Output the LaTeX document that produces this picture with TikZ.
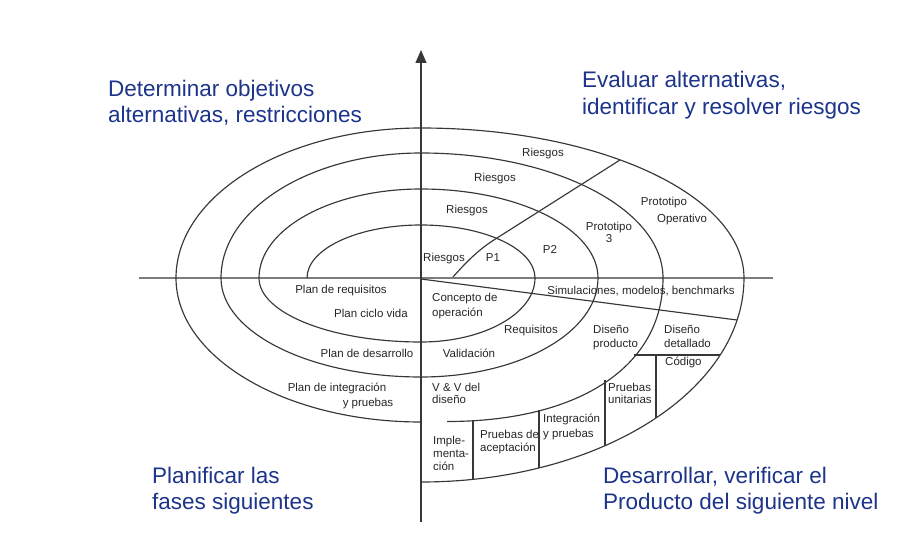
\documentclass[tikz,border=0pt]{standalone}
\usepackage{fontspec}
\setmainfont{Liberation Sans}
\usetikzlibrary{arrows.meta}
\definecolor{quadblue}{RGB}{28,52,138}
\definecolor{linegray}{RGB}{55,55,55}
\definecolor{axisgray}{RGB}{125,125,125}
\tikzset{
  spiral/.style={draw=linegray, line width=1.15pt},
  lbl/.style={font=\fontsize{11.5}{13}\selectfont, inner sep=0pt, text=black!85, anchor=base},
  lblw/.style={lbl, anchor=base west},
  quad/.style={font=\fontsize{22.5}{27}\selectfont, text=quadblue, inner sep=0pt, anchor=base west},
}
\begin{document}
\begin{tikzpicture}[x=1pt,y=-1pt]
\useasboundingbox (0,0) rectangle (914,543);
% axes
\draw[axisgray, line width=1.2pt] (139,278) -- (773,278);
\draw[linegray, line width=1.2pt, -{Triangle[length=13pt,width=11pt]}] (421,522) -- (421,50);
% spiral
\draw[spiral] (307,278) .. controls (307,248.7) and (358,225) .. (421,225)
  .. controls (484,225) and (535,248.7) .. (535,278)
  .. controls (535,313.3) and (484,342) .. (421,342)
  .. controls (331.5,342) and (259,313.3) .. (259,278)
  .. controls (259,228.8) and (331.5,189) .. (421,189)
  .. controls (518.8,189) and (598,228.8) .. (598,278)
  .. controls (598,332.7) and (518.8,377) .. (421,377)
  .. controls (310.5,377) and (221,332.7) .. (221,278)
  .. controls (221,209) and (310.5,153) .. (421,153)
  .. controls (554.7,153) and (663,209) .. (663,278)
  .. controls (663,366) and (580,421.5) .. (447,421.5);
\draw[spiral] (421,422) .. controls (285.7,422) and (176,357.5) .. (176,278)
  .. controls (176,195.2) and (285.7,128) .. (421,128)
  .. controls (599.4,128) and (744,195.2) .. (744,278)
  .. controls (744,390.7) and (599.4,482) .. (421,482);
% radial lines
\draw[spiral] (453,277) .. controls (468,260) and (480,248.5) .. (497,238) -- (620,160);
\draw[spiral] (421,279) -- (737,320);
\draw[spiral] (634,355) -- (720,355);
\draw[spiral] (656,355) -- (656,418);
\draw[spiral] (605,380) -- (605,446);
\draw[spiral] (539,410) -- (539,468);
\draw[spiral] (473,421) -- (473,479.5);
% quadrant titles
\node[quad] (q1a) at (108,96) {Determinar objetivos};
\node[quad] (q1b) at (108,123) {alternativas, restricciones};
\node[quad] (q2a) at (582,88) {Evaluar alternativas,};
\node[quad] (q2b) at (582,114) {identificar y resolver riesgos};
\node[quad] (q3a) at (152,483) {Planificar las};
\node[quad] (q3b) at (152,509) {fases siguientes};
\node[quad] (q4a) at (603,483) {Desarrollar, verificar el};
\node[quad] (q4b) at (603,509) {Producto del siguiente nivel};
% labels upper right
\node[lbl] (r4) at (543,157) {Riesgos};
\node[lbl] (r3) at (495,181) {Riesgos};
\node[lbl] (r2) at (467,213) {Riesgos};
\node[lbl] (r1) at (444,261) {Riesgos};
\node[lbl] (p1) at (493,261) {P1};
\node[lbl] (p2) at (550,253) {P2};
\node[lbl] (p3a) at (609,230) {Prototipo};
\node[lbl] (p3b) at (609,242) {3};
\node[lbl] (p4a) at (664,205) {Prototipo};
\node[lbl] (p4b) at (682,222) {Operativo};
% labels lower right
\node[lbl] (sim) at (641,294) {Simulaciones, modelos, benchmarks};
\node[lblw] (co1) at (432,301) {Concepto de};
\node[lblw] (co2) at (432,316) {operación};
\node[lbl] (req) at (531,333) {Requisitos};
\node[lblw] (dp1) at (593,333) {Diseño};
\node[lblw] (dp2) at (593,347) {producto};
\node[lblw] (dd1) at (664,333) {Diseño};
\node[lblw] (dd2) at (664,347) {detallado};
\node[lblw] (cod) at (665,365) {Código};
\node[lbl] (val) at (469,357) {Validación};
\node[lblw] (vv1) at (432,391) {V \& V del};
\node[lblw] (vv2) at (432,403) {diseño};
\node[lblw] (im1) at (433,444) {Imple-};
\node[lblw] (im2) at (433,457) {menta-};
\node[lblw] (im3) at (433,470) {ción};
\node[lblw] (pa1) at (480,438) {Pruebas de};
\node[lblw] (pa2) at (480,451) {aceptación};
\node[lblw] (ip1) at (543,422) {Integración};
\node[lblw] (ip2) at (543,437) {y pruebas};
\node[lblw] (pu1) at (608,391) {Pruebas};
\node[lblw] (pu2) at (608,403) {unitarias};
% labels lower left
\node[lbl] (pr) at (341,293) {Plan de requisitos};
\node[lbl] (pc) at (371,317) {Plan ciclo vida};
\node[lbl] (pd) at (367,357) {Plan de desarrollo};
\node[lbl] (pi1) at (337,391) {Plan de integración};
\node[lbl] (pi2) at (368,406) {y pruebas};
\end{tikzpicture}
\end{document}
